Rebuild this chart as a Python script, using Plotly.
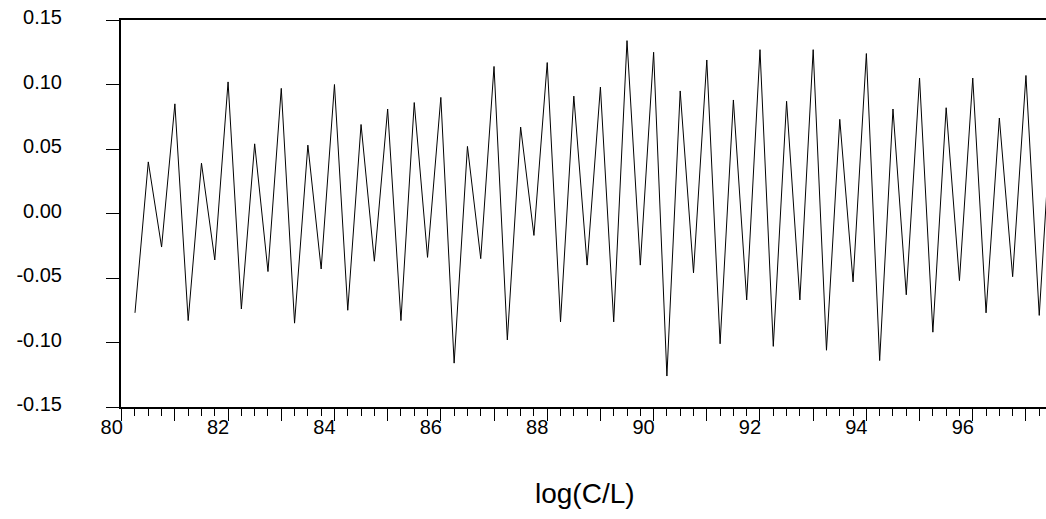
import plotly.graph_objects as go

# Quarterly series, starting 1980Q2
start_year = 80.25
values = [
    -0.077, 0.040, -0.026, 0.085, -0.083, 0.039, -0.036, 0.102, -0.074, 0.054,
    -0.045, 0.097, -0.085, 0.053, -0.043, 0.100, -0.075, 0.069, -0.037, 0.081,
    -0.083, 0.086, -0.034, 0.090, -0.116, 0.052, -0.035, 0.114, -0.098, 0.067,
    -0.017, 0.117, -0.084, 0.091, -0.040, 0.098, -0.084, 0.134, -0.040, 0.125,
    -0.126, 0.095, -0.046, 0.119, -0.101, 0.088, -0.067, 0.127, -0.103, 0.087,
    -0.067, 0.127, -0.106, 0.073, -0.053, 0.124, -0.114, 0.081, -0.063, 0.105,
    -0.092, 0.082, -0.052, 0.105, -0.077, 0.074, -0.049, 0.107, -0.079, 0.090,
]
x_years = [start_year + 0.25 * i for i in range(len(values))]

year_ticks = list(range(80, 98))
label_years = [y for y in year_ticks if y % 2 == 0]
label_text = [str(y) for y in label_years]
y_ticks = [-0.15, -0.10, -0.05, 0.00, 0.05, 0.10, 0.15]
y_labels = ["-0.15", "-0.10", "-0.05", "0.00", "0.05", "0.10", "0.15"]
x_title = "log(C/L)"

FONT = "Liberation Sans, Arial, sans-serif"
X_RANGE = [79.987, 97.377]

fig = go.Figure()
fig.add_trace(go.Scatter(x=x_years, y=values, mode="lines",
                         line=dict(color="black", width=1), showlegend=False,
                         hoverinfo="skip"))
# empty helper trace so the label-only axis is drawn
fig.add_trace(go.Scatter(x=[None], y=[None], xaxis="x2", yaxis="y",
                         mode="lines", showlegend=False, hoverinfo="skip"))

fig.update_layout(
    width=1046, height=519,
    margin=dict(l=121, r=0, t=20, b=112, pad=0),
    paper_bgcolor="white", plot_bgcolor="white",
    font=dict(family=FONT, size=20, color="black"),
    xaxis=dict(
        range=X_RANGE,
        tickmode="array", tickvals=year_ticks, showticklabels=False,
        ticks="outside", ticklen=12, tickwidth=1, tickcolor="black",
        minor=dict(dtick=0.25, tick0=80, ticks="outside", ticklen=7,
                   tickwidth=1, tickcolor="black", showgrid=False),
        showline=True, linewidth=2, linecolor="black", mirror=True,
        showgrid=False, zeroline=False,
    ),
    xaxis2=dict(
        range=X_RANGE, overlaying="x", anchor="y", side="bottom",
        tickmode="array", tickvals=label_years, ticktext=label_text,
        ticks="", showline=False, showgrid=False, zeroline=False,
        tickfont=dict(size=20), ticklabelshift=-10, ticklabelstandoff=6,
    ),
    yaxis=dict(
        range=[-0.15, 0.15],
        tickmode="array", tickvals=y_ticks, ticktext=y_labels,
        ticks="outside", ticklen=13, tickwidth=1, tickcolor="black",
        showline=True, linewidth=2, linecolor="black",
        showgrid=False, zeroline=False,
        tickfont=dict(size=20), ticklabelstandoff=40, ticklabelshift=-3,
    ),
    annotations=[dict(
        text=x_title, xref="paper", yref="paper",
        x=(585 - 121) / 925, y=-(493 - 407) / 387,
        xanchor="center", yanchor="middle", showarrow=False,
        font=dict(size=28, family=FONT, color="black"),
    )],
)

fig.write_html("out.html")
